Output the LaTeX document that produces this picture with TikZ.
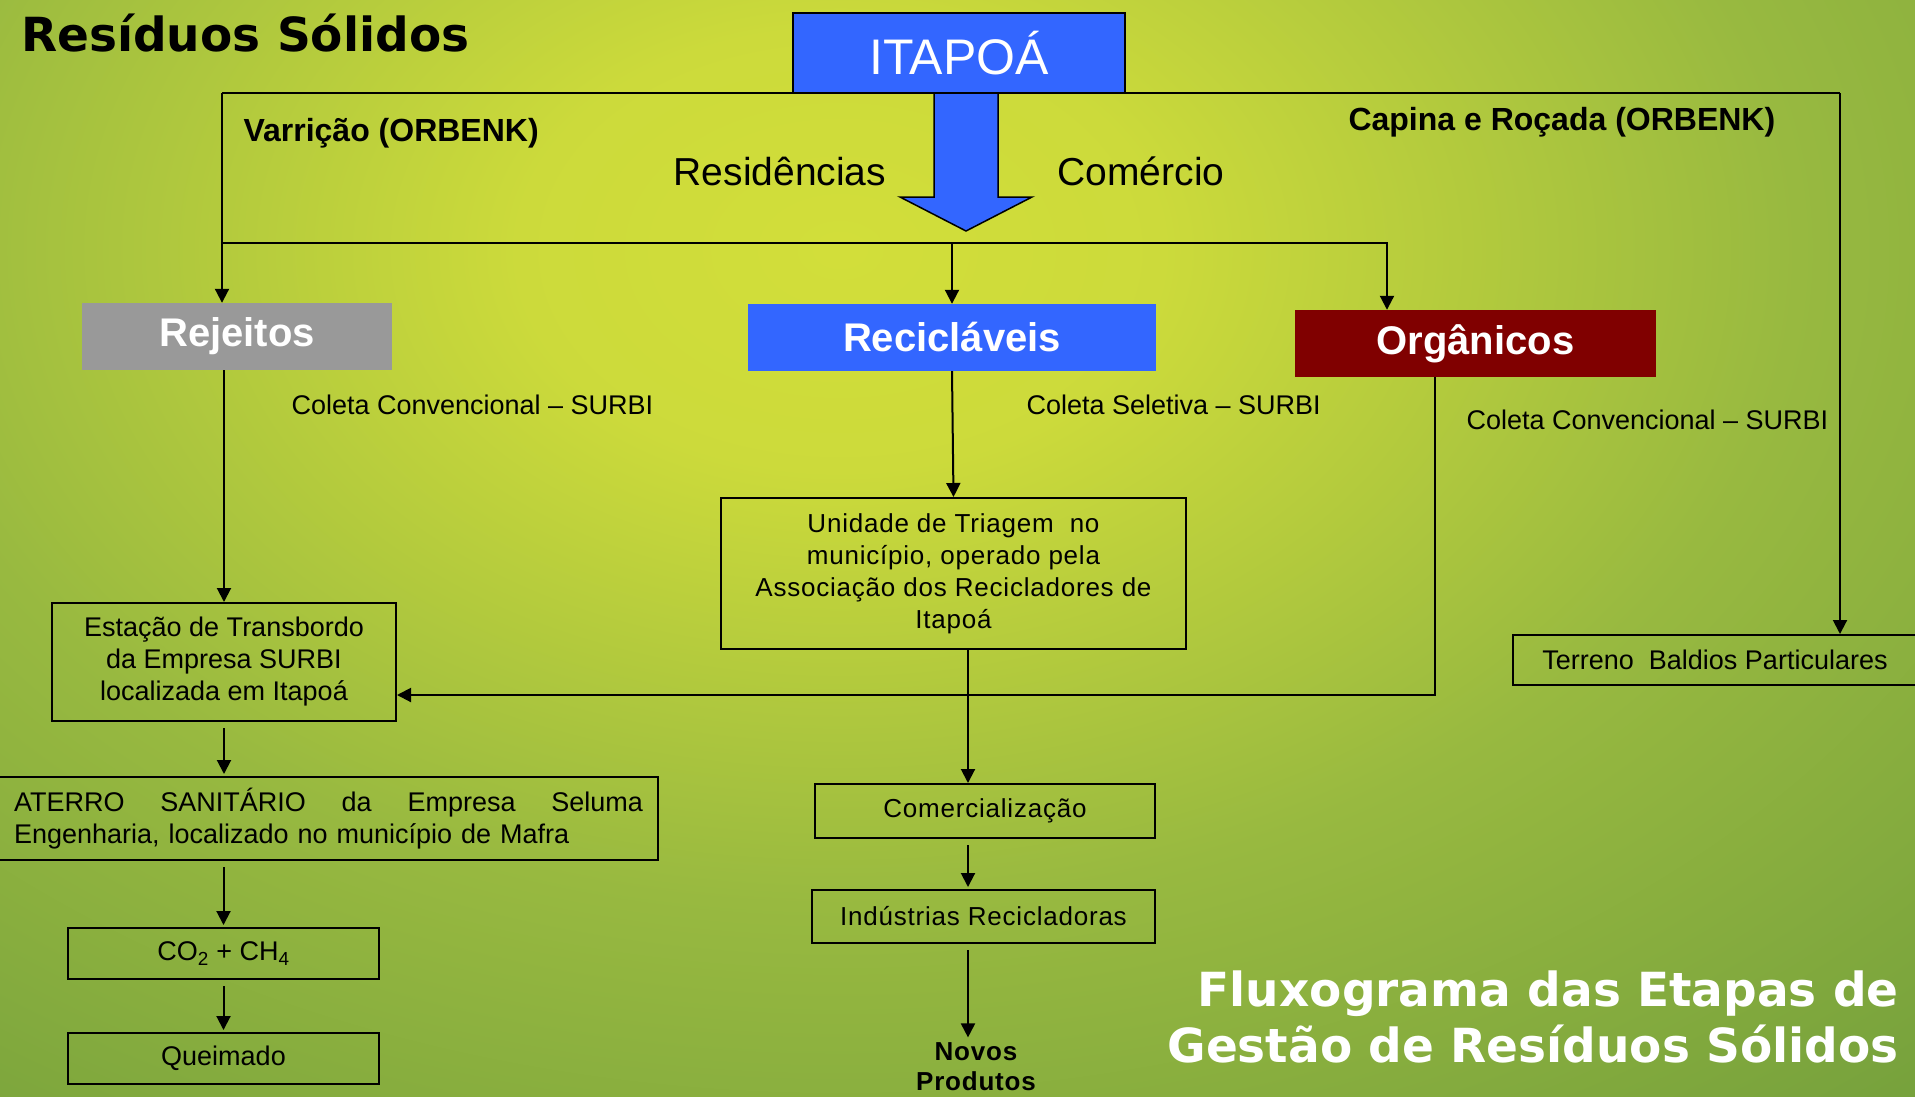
\documentclass[tikz,border=0pt]{standalone}
\usepackage{fontspec}
\setmainfont{Liberation Sans}
\newfontfamily\titlefont{DejaVu Sans}
\newfontfamily\widefont[LetterSpace=3]{Liberation Sans}
\usetikzlibrary{arrows.meta,calc,positioning}
\definecolor{ItaBlue}{HTML}{3366FF}
\definecolor{WasteGray}{HTML}{999999}
\definecolor{OrganicRed}{HTML}{800000}
\definecolor{LeafLight}{HTML}{D2DE3A}
\definecolor{LeafMid}{HTML}{98B940}
\definecolor{LeafDark}{HTML}{62933A}
\pgfdeclareradialshading{leafglow}{\pgfpoint{0bp}{0bp}}{%
  color(0bp)=(LeafLight); color(4.2bp)=(LeafLight!90!LeafMid);
  color(12.6bp)=(LeafMid); color(27bp)=(LeafDark); color(50bp)=(LeafDark)}
\tikzset{
  every node/.style={font=\fontsize{27}{32}\selectfont, text=black},
  headbox/.style={draw=black, line width=2pt, fill=ItaBlue, text=white, inner sep=0pt,
    minimum width=332pt, minimum height=80pt, font=\fontsize{50}{60}\selectfont},
  category/.style={text=white, inner sep=0pt, minimum height=67pt,
    font=\bfseries\fontsize{40}{48}\selectfont},
  stagebox/.style={draw=black, line width=2pt, inner sep=0pt, align=center},
  widebox/.style={stagebox, font=\widefont\fontsize{26}{32}\selectfont},
  tag/.style={anchor=west, font=\bfseries\fontsize{32}{38}\selectfont},
  source/.style={font=\fontsize{39}{46}\selectfont},
  note/.style={anchor=west},
  link/.style={draw=black, line width=2pt},
  flow/.style={link, -{Triangle[length=14pt,width=14pt]}},
  gap/.style={shorten <=6pt, shorten >=2pt},
  bigarrow/.style={draw=black, line width=1.5pt, fill=ItaBlue},
  heading/.style={font=\titlefont\bfseries\fontsize{47}{56}\selectfont, inner sep=0pt},
}

\begin{document}
\begin{tikzpicture}[x=1pt,y=-1pt]
  \useasboundingbox (0,0) rectangle (1915,1096);
  % background
  \begin{scope}
    \clip (0,0) rectangle (1915,1096);
    \fill[LeafDark] (0,0) rectangle (1915,1096);
    \shade[shading=leafglow] (840,250) ellipse (1900 and 1300);
  \end{scope}
  \node[heading, anchor=base west] (title) at (21,51) {Resíduos Sólidos};
  \node[heading, anchor=east, align=right, text=white] (footer) at (1899,1017)
    {Fluxograma das Etapas de\\Gestão de Resíduos Sólidos};

  % source and split
  \draw[bigarrow] (934,93) -- (998,93) -- (998,197) -- (1032,197) -- (966,231)
    -- (900,197) -- (934,197) -- cycle;
  \node[headbox] (itapoa) at (959,53) {ITAPOÁ};
  \node[source] (residencias) at (780,171) {Residências};
  \node[source] (comercio) at (1141,171) {Comércio};
  \node[tag] (varricao) at (240,133) {Varrição (ORBENK)};
  \node[tag] (capina) at (1345,122) {Capina e Roçada (ORBENK)};

  % categories
  \node[category, fill=WasteGray, minimum width=310pt] (rejeitos) at (237,336.5) {Rejeitos};
  \node[category, fill=ItaBlue, minimum width=408pt] (reciclaveis) at (952,337.5) {Recicláveis};
  \node[category, fill=OrganicRed, minimum width=361pt] (organicos) at (1475.5,343.5) {Orgânicos};
  \node[note] (coletarej) at (288,405) {Coleta Convencional -- SURBI};
  \node[note] (coletarec) at (1023,405) {Coleta Seletiva -- SURBI};
  \node[note] (coletaorg) at (1463,420) {Coleta Convencional -- SURBI};

  % stages
  \node[stagebox, minimum width=344pt, minimum height=118pt] (estacao) at (224,662)
    {Estação de Transbordo\\da Empresa SURBI\\localizada em Itapoá};
  \node[stagebox, minimum width=659pt, minimum height=83pt, inner xsep=15pt,
    text width=629pt, align=left] (aterro) at (328.5,818.5)
    {ATERRO\hfill SANITÁRIO\hfill da\hfill Empresa\hfill Seluma\\Engenharia, localizado no município de Mafra};
  \node[stagebox, minimum width=311pt, minimum height=51pt] (co2) at (223.5,953.5)
    {CO\textsubscript{2} + CH\textsubscript{4}};
  \node[stagebox, minimum width=311pt, minimum height=51pt] (queimado) at (223.5,1058.5) {Queimado};
  \node[widebox, minimum width=465pt, minimum height=151pt] (unidade) at (953.5,573.5)
    {Unidade de Triagem\ \ no\\município, operado pela\\Associação dos Recicladores de\\Itapoá};
  \node[widebox, minimum width=340pt, minimum height=54pt] (comercializacao) at (985,811) {Comercialização};
  \node[widebox, minimum width=343pt, minimum height=53pt] (industrias) at (983.5,916.5) {Indústrias Recicladoras};
  \node[align=center, font=\widefont\bfseries\fontsize{26}{30}\selectfont] (novos) at (976,1067) {Novos\\Produtos};
  \node[stagebox, minimum width=404pt, minimum height=50pt] (terreno) at (1715,660)
    {Terreno\ \ Baldios Particulares};

  % connectors
  \coordinate (topleft) at (222,93);
  \coordinate (topright) at (1840,93);
  \coordinate (splitleft) at (222,243);
  \coordinate (splitright) at (1387,243);
  \coordinate (column) at (968,0);
  \coordinate (return) at (1435,695);
  \draw[link] (topleft) -- (topright);
  \draw[flow] (topleft) -- (topleft |- rejeitos.north);
  \draw[flow] (topright) -- (topright |- terreno.north);
  \draw[flow] (splitleft) -- (splitright) -- (splitright |- organicos.north);
  \draw[flow] (reciclaveis.north |- splitleft) -- (reciclaveis.north);
  \draw[flow] (rejeitos.south -| estacao.north) -- (estacao.north);
  \draw[flow] (reciclaveis.south) -- (unidade.north);
  \draw[flow] (organicos.south -| return) -- (return) -- (estacao.east |- return);
  \draw[flow, gap] (estacao.south) -- (aterro.north -| estacao.south);
  \draw[flow, gap] (aterro.south -| co2.north) -- (co2.north);
  \draw[flow, gap] (co2.south) -- (queimado.north);
  \draw[flow] (unidade.south -| column) -- (comercializacao.north -| column);
  \draw[flow, gap] (comercializacao.south -| column) -- (industrias.north -| column);
  \draw[flow, gap] (industrias.south -| column) -- (novos.north -| column);
\end{tikzpicture}
\end{document}
